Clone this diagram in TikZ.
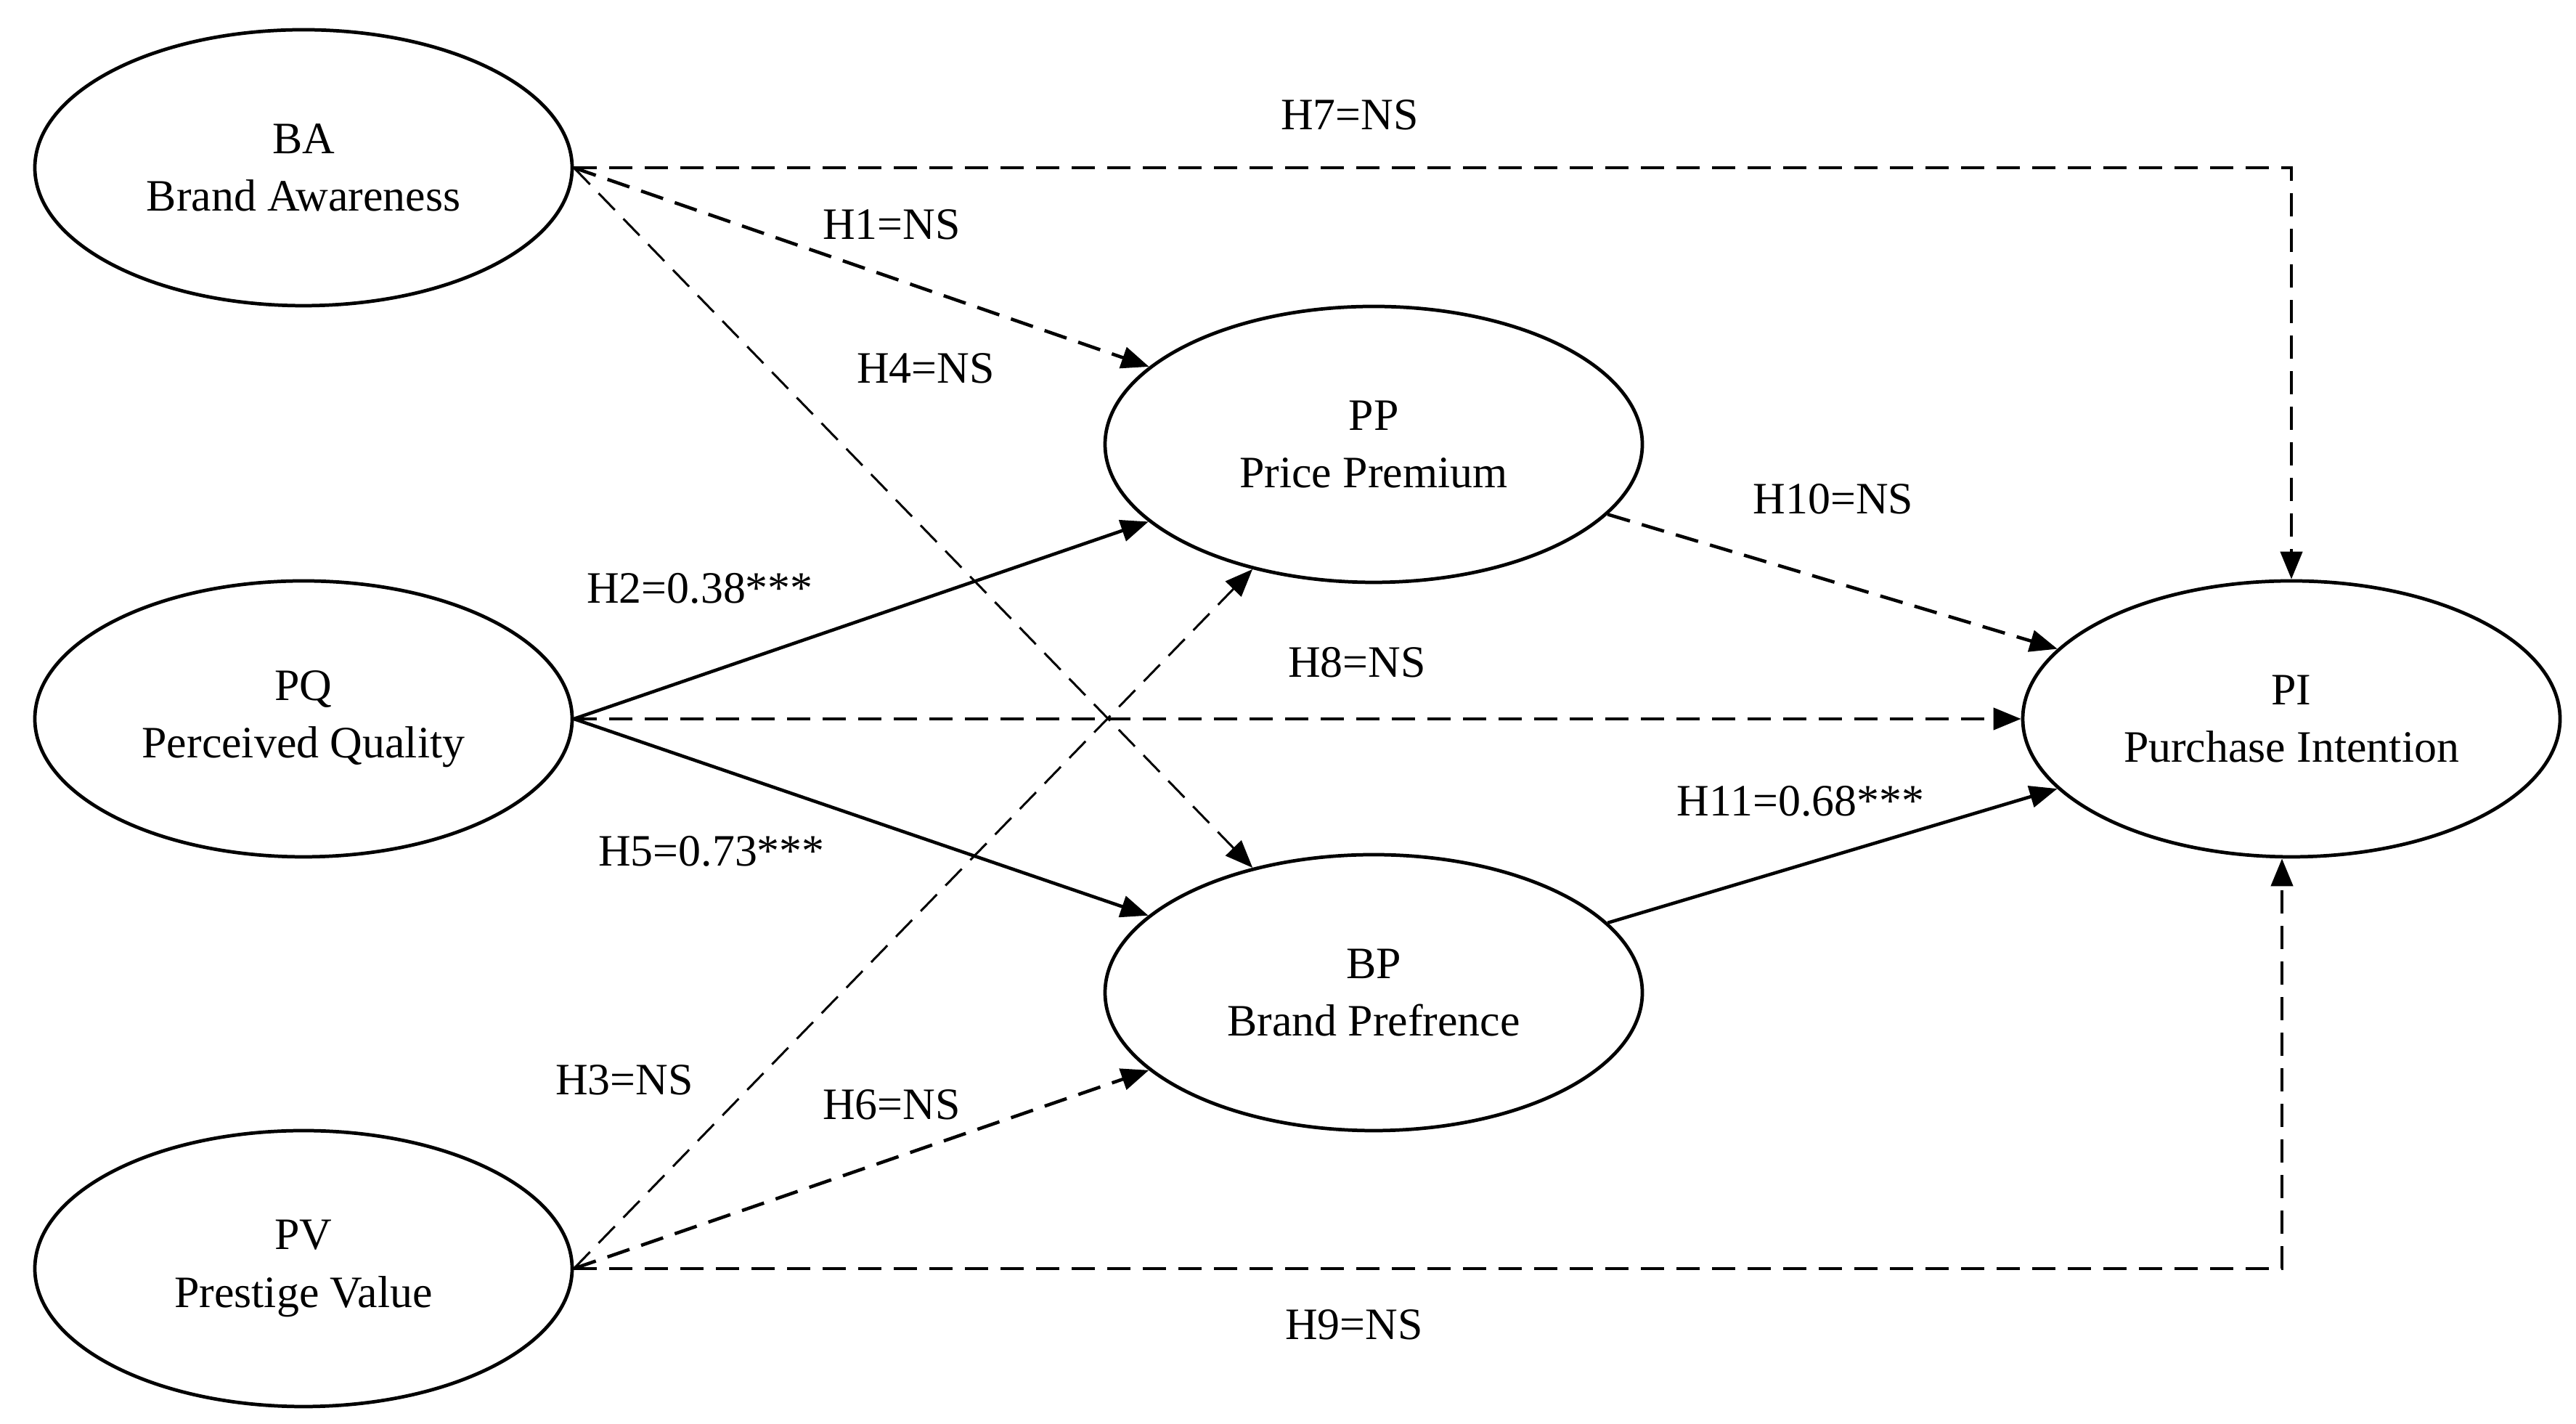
\documentclass[tikz,border=0pt]{standalone}
\usepackage{fontspec}
\setmainfont{Liberation Serif}
\usetikzlibrary{shapes.geometric,arrows.meta}

\begin{document}
\begin{tikzpicture}[
  construct/.style = {draw, ellipse, line width = 1.35pt, minimum width = 7.4cm, minimum height = 3.8cm, inner sep = 0pt, align = center, font = \fontsize{17.6}{22.6}\selectfont},
  hyp/.style = {inner sep = 1pt, font = \fontsize{17.6}{21.6}\selectfont},
  sig/.style = {line width = 1.3pt, -{Triangle[length = 0.38cm, width = 0.3cm]}},
  ns/.style = {sig, dash pattern = on 0.32cm off 0.17cm},
  nsthin/.style = {ns, line width = 0.85pt}
]
\useasboundingbox (0,0) rectangle (35.48,19.61);
% constructs
\node [construct] (BA) at (4.18,17.30) {BA\\Brand Awareness};
\node [construct] (PQ) at (4.18,9.71) {PQ\\Perceived Quality};
\node [construct] (PV) at (4.18,2.14) {PV\\Prestige Value};
\node [construct] (PP) at (18.92,13.49) {PP\\Price Premium};
\node [construct] (BP) at (18.92,5.94) {BP\\Brand Prefrence};
\node [construct] (PI) at (31.56,9.71) {PI\\Purchase Intention};
% paths
\draw [ns] (BA.east) -- (PP);
\draw [nsthin] (BA.east) -- (BP);
\draw [ns] (BA.east) -| (PI.north);
\draw [sig] (PQ.east) -- (PP);
\draw [sig] (PQ.east) -- (BP);
\draw [ns] (PQ.east) -- (PI.west);
\draw [nsthin] (PV.east) -- (PP);
\draw [ns] (PV.east) -- (BP);
\draw [ns] (PV.east) -| ([xshift=-0.13cm]PI.south);
\draw [ns] (PP) -- (PI);
\draw [sig] (BP) -- (PI);
% hypotheses
\node [hyp] (h1) at (12.28,16.52) {H1=NS};
\node [hyp] (h2) at (9.64,11.51) {H2=0.38***};
\node [hyp] (h3) at (8.60,4.74) {H3=NS};
\node [hyp] (h4) at (12.75,14.54) {H4=NS};
\node [hyp] (h5) at (9.80,7.89) {H5=0.73***};
\node [hyp] (h6) at (12.28,4.40) {H6=NS};
\node [hyp] (h7) at (18.59,18.03) {H7=NS};
\node [hyp] (h8) at (18.69,10.49) {H8=NS};
\node [hyp] (h9) at (18.65,1.37) {H9=NS};
\node [hyp] (h10) at (25.25,12.74) {H10=NS};
\node [hyp] (h11) at (24.80,8.58) {H11=0.68***};
\end{tikzpicture}
\end{document}
